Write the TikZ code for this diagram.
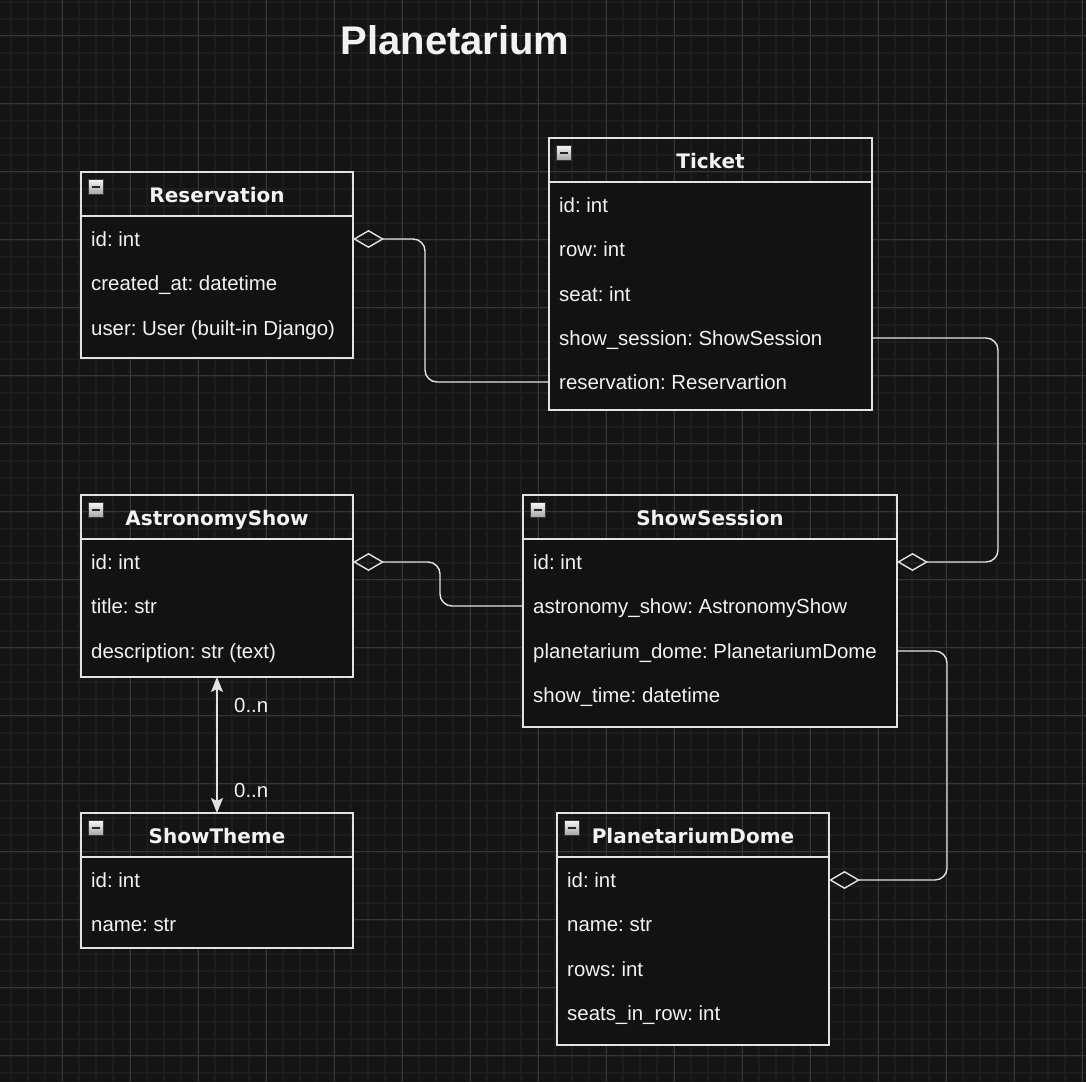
\documentclass[tikz,border=0pt]{standalone}
\usepackage{fontspec}
\setmainfont{Liberation Sans}
\newfontfamily\headfont{DejaVu Sans}
\usetikzlibrary{arrows.meta}
\frenchspacing

\definecolor{bgc}{HTML}{141414}
\definecolor{boxfill}{HTML}{121212}
\definecolor{gridminor}{HTML}{1D1D1D}
\definecolor{gridmajor}{HTML}{363636}
\definecolor{ink}{HTML}{E2E2E2}
\definecolor{txt}{HTML}{F2F2F2}

\tikzset{
  x=1pt, y=-1pt,
  classbox/.style={draw=ink, line width=1.3pt, anchor=north west, inner sep=0pt, outer sep=0pt},
  rowtext/.style={anchor=west, inner sep=0pt, text=txt, text height=17pt, text depth=3pt,
    font=\fontsize{20.4}{24}\selectfont},
  headtext/.style={anchor=center, inner sep=0pt, text=txt, text height=17.3pt, text depth=3pt,
    font=\headfont\bfseries\fontsize{20}{24}\selectfont},
  conn/.style={draw=ink, line width=1.4pt, rounded corners=12pt},
  aggtip/.tip={Diamond[open, length=31pt, width=18pt]},
  navtip/.tip={Stealth[length=15pt, width=12pt, inset=3pt]},
}

% class frame: name, left, top, right, bottom, title
\newcommand{\umlclass}[6]{%
  \fill[boxfill] (#2,{#3+44}) rectangle (#4,#5);
  \node[classbox, minimum width={#4pt-#2pt}, minimum height={#5pt-#3pt}] (#1) at (#2,#3) {};
  \draw[ink, line width=1.3pt] (#2,{#3+44}) -- (#4,{#3+44});
  \node[headtext] (#1-title) at ({(#2+#4)/2},{#3+23}) {#6};
  \shade[top color=white!95!gray, bottom color=gray!70, draw=gray!45!black, line width=0.8pt]
    ({#2+7},{#3+7}) rectangle ++(15,15);
  \draw[black!85, line width=2pt] ({#2+10.5},{#3+14.5}) -- ++(8,0);
}

\begin{document}
\begin{tikzpicture}
\useasboundingbox (0,0) rectangle (1086,1082);
\fill[bgc] (0,0) rectangle (1086,1082);

% background grid
\foreach \i in {0,...,63} {
  \draw[gridminor, line width=1.6pt] ({11+17*\i},0) -- ({11+17*\i},1082);
  \draw[gridminor, line width=1.6pt] (0,{1.7+17*\i}) -- (1086,{1.7+17*\i});
}
\foreach \i in {1,...,16} {
  \draw[gridmajor, line width=0.9pt] ({-6+68*\i},0) -- ({-6+68*\i},1082);
}
\foreach \i in {0,...,15} {
  \draw[gridmajor, line width=0.9pt] (0,{35+68*\i}) -- (1086,{35+68*\i});
}

% title
\node[text=txt, font=\bfseries\fontsize{40}{48}\selectfont, inner sep=0pt] (title) at (455,40) {Planetarium};

% Reservation
\umlclass{resv}{81}{172}{353}{358}{Reservation}
\node[rowtext] (resv-id)   at (91,239) {id: int};
\node[rowtext] (resv-cr)   at (91,283) {created\_at: datetime};
\node[rowtext] (resv-user) at (91,328) {user: User (built-in Django)};

% Ticket
\umlclass{tick}{549}{138}{872}{410}{Ticket}
\node[rowtext] (tick-id)   at (559,205) {id: int};
\node[rowtext] (tick-row)  at (559,249) {row: int};
\node[rowtext] (tick-seat) at (559,294) {seat: int};
\node[rowtext] (tick-ss)   at (559,338) {show\_session: ShowSession};
\node[rowtext] (tick-res)  at (559,382) {reservation: Reservartion};

% AstronomyShow
\umlclass{astro}{81}{495}{353}{677}{AstronomyShow}
\node[rowtext] (astro-id)    at (91,562) {id: int};
\node[rowtext] (astro-title) at (91,606) {title: str};
\node[rowtext] (astro-desc)  at (91,651) {description: str (text)};

% ShowSession
\umlclass{sess}{523}{495}{897}{727}{ShowSession}
\node[rowtext] (sess-id) at (533,562) {id: int};
\node[rowtext] (sess-as) at (533,606) {astronomy\_show: AstronomyShow};
\node[rowtext] (sess-pd) at (533,651) {planetarium\_dome: PlanetariumDome};
\node[rowtext] (sess-st) at (533,695) {show\_time: datetime};

% ShowTheme
\umlclass{theme}{81}{813}{353}{948}{ShowTheme}
\node[rowtext] (theme-id)   at (91,880) {id: int};
\node[rowtext] (theme-name) at (91,924) {name: str};

% PlanetariumDome
\umlclass{dome}{557}{813}{829}{1045}{PlanetariumDome}
\node[rowtext] (dome-id)    at (567,880) {id: int};
\node[rowtext] (dome-name)  at (567,924) {name: str};
\node[rowtext] (dome-rows)  at (567,969) {rows: int};
\node[rowtext] (dome-seats) at (567,1013) {seats\_in\_row: int};

% relations
\draw[conn, {aggtip}-] (resv.east |- resv-id) -- ++(72,0) |- (tick.west |- tick-res);
\draw[conn, -{aggtip}] (tick.east |- tick-ss) -- ++(126,0) |- (sess.east |- sess-id);
\draw[conn, -{aggtip}] (sess.west |- sess-as) -- ++(-83,0) |- (astro.east |- astro-id);
\draw[conn, -{aggtip}] (sess.east |- sess-pd) -- ++(50,0) |- (dome.east |- dome-id);
\draw[conn, {navtip}-{navtip}] (astro.south) -- (theme.north);
\node[rowtext] (mult-top) at (234,705) {0..n};
\node[rowtext] (mult-bot) at (234,790) {0..n};
\end{tikzpicture}
\end{document}
